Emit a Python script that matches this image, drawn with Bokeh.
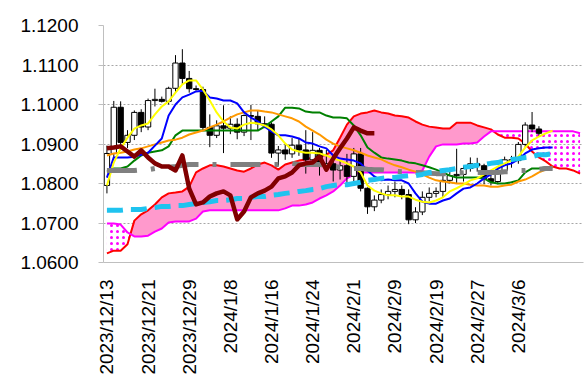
import numpy as np
from math import pi
from bokeh.plotting import figure
from bokeh.models import FixedTicker, NumeralTickFormatter, Range1d
from bokeh.embed import file_html
from bokeh.resources import INLINE

dates = ["2023/12/13", "2023/12/14", "2023/12/15", "2023/12/18", "2023/12/19", "2023/12/20",
         "2023/12/21", "2023/12/22", "2023/12/25", "2023/12/26", "2023/12/27", "2023/12/28",
         "2023/12/29", "2024/1/1", "2024/1/2", "2024/1/3", "2024/1/4", "2024/1/5",
         "2024/1/8", "2024/1/9", "2024/1/10", "2024/1/11", "2024/1/12", "2024/1/15",
         "2024/1/16", "2024/1/17", "2024/1/18", "2024/1/19", "2024/1/22", "2024/1/23",
         "2024/1/24", "2024/1/25", "2024/1/26", "2024/1/29", "2024/1/30", "2024/1/31",
         "2024/2/1", "2024/2/2", "2024/2/5", "2024/2/6", "2024/2/7", "2024/2/8",
         "2024/2/9", "2024/2/12", "2024/2/13", "2024/2/14", "2024/2/15", "2024/2/16",
         "2024/2/19", "2024/2/20", "2024/2/21", "2024/2/22", "2024/2/23", "2024/2/26",
         "2024/2/27", "2024/2/28", "2024/2/29", "2024/3/1", "2024/3/4", "2024/3/5",
         "2024/3/6", "2024/3/7", "2024/3/8", "2024/3/11"]

opens = [1.0795, 1.0876, 1.0993, 1.0904, 1.0922, 1.0980, 1.0943, 1.1010, 1.1013, 1.1008,
         1.1041, 1.1105, 1.1066, 1.1040, 1.1038, 1.0942, 1.0922, 1.0946, 1.0940, 1.0950,
         1.0930, 1.0972, 1.0970, 1.0951, 1.0950, 1.0877, 1.0885, 1.0875, 1.0897, 1.0885,
         1.0860, 1.0884, 1.0845, 1.0850, 1.0834, 1.0845, 1.0818, 1.0875, 1.0788, 1.0741,
         1.0758, 1.0772, 1.0780, 1.0785, 1.0772, 1.0708, 1.0728, 1.0765, 1.0775, 1.0780,
         1.0808, 1.0820, 1.0823, 1.0838, 1.0850, 1.0845, 1.0812, 1.0805, 1.0833, 1.0860,
         1.0858, 1.0899, 1.0948, 1.0938]
highs = [1.0896, 1.1009, 1.1008, 1.0935, 1.0985, 1.0988, 1.1015, 1.1040, 1.1020, 1.1045,
         1.1125, 1.1140, 1.1085, 1.1048, 1.1045, 1.0975, 1.0960, 1.0998, 1.0970, 1.0965,
         1.0975, 1.0999, 1.0985, 1.0970, 1.0955, 1.0895, 1.0900, 1.0915, 1.0915, 1.0935,
         1.0930, 1.0890, 1.0885, 1.0860, 1.0857, 1.0875, 1.0890, 1.0890, 1.0790, 1.0770,
         1.0785, 1.0795, 1.0805, 1.0795, 1.0785, 1.0740, 1.0780, 1.0790, 1.0790, 1.0825,
         1.0840, 1.0888, 1.0845, 1.0866, 1.0865, 1.0850, 1.0830, 1.0840, 1.0868, 1.0870,
         1.0905, 1.0955, 1.0981, 1.0945]
lows = [1.0775, 1.0866, 1.0888, 1.0890, 1.0910, 1.0930, 1.0935, 1.0995, 1.1005, 1.1000,
        1.1030, 1.1050, 1.1030, 1.1035, 1.0935, 1.0892, 1.0915, 1.0877, 1.0925, 1.0912,
        1.0920, 1.0910, 1.0935, 1.0940, 1.0865, 1.0845, 1.0860, 1.0865, 1.0870, 1.0825,
        1.0850, 1.0820, 1.0835, 1.0805, 1.0810, 1.0795, 1.0795, 1.0780, 1.0723, 1.0730,
        1.0750, 1.0760, 1.0765, 1.0760, 1.0697, 1.0700, 1.0720, 1.0755, 1.0765, 1.0765,
        1.0800, 1.0800, 1.0805, 1.0830, 1.0830, 1.0798, 1.0795, 1.0798, 1.0825, 1.0840,
        1.0850, 1.0890, 1.0930, 1.0918]
closes = [1.0876, 1.0993, 1.0904, 1.0922, 1.0980, 1.0943, 1.1010, 1.1013, 1.1008, 1.1041,
          1.1105, 1.1066, 1.1040, 1.1038, 1.0942, 1.0922, 1.0946, 1.0940, 1.0950, 1.0930,
          1.0972, 1.0970, 1.0951, 1.0950, 1.0877, 1.0885, 1.0875, 1.0897, 1.0885, 1.0860,
          1.0884, 1.0845, 1.0850, 1.0834, 1.0845, 1.0818, 1.0875, 1.0788, 1.0741, 1.0758,
          1.0772, 1.0780, 1.0785, 1.0772, 1.0708, 1.0728, 1.0765, 1.0775, 1.0780, 1.0808,
          1.0820, 1.0823, 1.0838, 1.0850, 1.0845, 1.0812, 1.0805, 1.0833, 1.0860, 1.0858,
          1.0899, 1.0948, 1.0938, 1.0927]

tenkan = [1.0795, 1.0853, 1.0889, 1.0916, 1.0939, 1.0947, 1.0952, 1.0975, 1.0995, 1.1008,
          1.1030, 1.1051, 1.1061, 1.1061, 1.1038, 1.1010, 1.0980, 1.0957, 1.0942, 1.0939,
          1.0949, 1.0954, 1.0952, 1.0947, 1.0937, 1.0922, 1.0901, 1.0886, 1.0881, 1.0878,
          1.0878, 1.0876, 1.0871, 1.0863, 1.0858, 1.0851, 1.0843, 1.0828, 1.0795, 1.0782,
          1.0775, 1.0770, 1.0770, 1.0767, 1.0767, 1.0759, 1.0754, 1.0752, 1.0757, 1.0765,
          1.0780, 1.0788, 1.0797, 1.0808, 1.0813, 1.0823, 1.0833, 1.0843, 1.0851, 1.0858,
          1.0868, 1.0891, 1.0909, 1.0919, 1.0927, 1.0934]
kijun = [1.0815, 1.0866, 1.0866, 1.0866, 1.0868, 1.0873, 1.0878, 1.0896, 1.0914, 1.0972,
         1.1000, 1.1018, 1.1025, 1.1033, 1.1035, 1.1018, 1.1015, 1.1010, 1.1010, 1.1003,
         1.0980, 1.0967, 1.0957, 1.0944, 1.0932, 1.0922, 1.0922, 1.0919, 1.0914, 1.0904,
         1.0901, 1.0894, 1.0889, 1.0871, 1.0863, 1.0861, 1.0858, 1.0851, 1.0833, 1.0818,
         1.0808, 1.0810, 1.0808, 1.0808, 1.0800, 1.0775, 1.0754, 1.0749, 1.0749, 1.0757,
         1.0762, 1.0775, 1.0787, 1.0790, 1.0800, 1.0813, 1.0823, 1.0838, 1.0846, 1.0851,
         1.0861, 1.0876, 1.0886, 1.0889, 1.0891, 1.0891]
green_line = [1.0830, 1.0838, 1.0838, 1.0843, 1.0858, 1.0871, 1.0878, 1.0881, 1.0884, 1.0894,
              1.0922, 1.0934, 1.0934, 1.0934, 1.0934, 1.0934, 1.0934, 1.0934, 1.0934, 1.0934,
              1.0934, 1.0934, 1.0934, 1.0944, 1.0957, 1.0970, 1.0992, 1.0992, 1.0990, 1.0982,
              1.0980, 1.0980, 1.0972, 1.0967, 1.0967, 1.0965, 1.0947, 1.0922, 1.0891, 1.0878,
              1.0866, 1.0863, 1.0861, 1.0858, 1.0853, 1.0851, 1.0846, 1.0841, 1.0835, 1.0828,
              1.0820, 1.0815, 1.0815, 1.0815, 1.0815, 1.0813, 1.0803, 1.0800, 1.0800, 1.0803,
              1.0808, 1.0828, 1.0838, 1.0838, 1.0841, 1.0841]
orange_line = [1.0871, 1.0876, 1.0878, 1.0881, 1.0886, 1.0889, 1.0894, 1.0899, 1.0904, 1.0909,
               1.0911, 1.0916, 1.0924, 1.0929, 1.0934, 1.0942, 1.0949, 1.0957, 1.0967, 1.0975,
               1.0980, 1.0985, 1.0985, 1.0982, 1.0980, 1.0975, 1.0970, 1.0965, 1.0957, 1.0944,
               1.0934, 1.0924, 1.0911, 1.0901, 1.0894, 1.0889, 1.0884, 1.0878, 1.0871, 1.0866,
               1.0861, 1.0853, 1.0846, 1.0841, 1.0835, 1.0830, 1.0823, 1.0815, 1.0808, 1.0805,
               1.0803, 1.0800, 1.0800, 1.0797, 1.0795, 1.0795, 1.0792, 1.0792, 1.0795, 1.0797,
               1.0805, 1.0810, 1.0818, 1.0828, 1.0835, 1.0843]
gray_line = [1.0833, 1.0833, 1.0833, 1.0833, 1.0833, 1.0835, 1.0835, 1.0838, 1.0841, 1.0841,
             1.0843, 1.0846, 1.0848, 1.0848, 1.0848, 1.0848, 1.0848, 1.0848, 1.0848, 1.0848,
             1.0848, 1.0848, 1.0848, 1.0848, 1.0848, 1.0848, 1.0851, 1.0851, 1.0848, 1.0848,
             1.0848, 1.0848, 1.0846, 1.0843, 1.0841, 1.0841, 1.0838, 1.0838, 1.0836, 1.0835,
             1.0835, 1.0833, 1.0831, 1.0830, 1.0830, 1.0828, 1.0827, 1.0826, 1.0825, 1.0825,
             1.0825, 1.0826, 1.0827, 1.0828, 1.0828, 1.0828, 1.0828, 1.0828, 1.0830, 1.0830,
             1.0833, 1.0833, 1.0835, 1.0836, 1.0838, 1.0838]
cyan_line = [1.0732, 1.0732, 1.0732, 1.0734, 1.0734, 1.0734, 1.0737, 1.0739, 1.0742, 1.0742,
             1.0744, 1.0744, 1.0747, 1.0749, 1.0752, 1.0754, 1.0757, 1.0757, 1.0759, 1.0762,
             1.0762, 1.0765, 1.0767, 1.0767, 1.0770, 1.0772, 1.0775, 1.0777, 1.0780, 1.0782,
             1.0785, 1.0787, 1.0792, 1.0795, 1.0797, 1.0797, 1.0800, 1.0803, 1.0808, 1.0810,
             1.0813, 1.0815, 1.0815, 1.0818, 1.0820, 1.0820, 1.0823, 1.0828, 1.0830, 1.0833,
             1.0835, 1.0838, 1.0841, 1.0843, 1.0846, 1.0848, 1.0851, 1.0853, 1.0858, 1.0861,
             1.0863, 1.0866, 1.0868, 1.0873, 1.0873, 1.0876]
chikou = [1.0889, 1.0891, 1.0894, 1.0881, 1.0868, 1.0884, 1.0866, 1.0851, 1.0843, 1.0843,
          1.0833, 1.0871, 1.0787, 1.0747, 1.0752, 1.0767, 1.0775, 1.0780, 1.0770, 1.0709,
          1.0729, 1.0765, 1.0775, 1.0782, 1.0792, 1.0813, 1.0818, 1.0828, 1.0846, 1.0851,
          1.0853, 1.0868, 1.0835, 1.0863, 1.0889, 1.0914, 1.0942, 1.0934, 1.0927, 1.0927]
span_a = [1.0623, 1.0630, 1.0630, 1.0646, 1.0706, 1.0722, 1.0732, 1.0747, 1.0765, 1.0775,
          1.0777, 1.0780, 1.0792, 1.0828, 1.0838, 1.0846, 1.0846, 1.0843, 1.0838, 1.0833,
          1.0830, 1.0838, 1.0848, 1.0853, 1.0846, 1.0835, 1.0848, 1.0853, 1.0858, 1.0861,
          1.0866, 1.0868, 1.0873, 1.0884, 1.0916, 1.0949, 1.0970, 1.0977, 1.0980, 1.0985,
          1.0980, 1.0977, 1.0972, 1.0970, 1.0967, 1.0957, 1.0949, 1.0944, 1.0942, 1.0939,
          1.0939, 1.0954, 1.0954, 1.0954, 1.0947, 1.0942, 1.0937, 1.0924, 1.0916, 1.0916,
          1.0914, 1.0901, 1.0881, 1.0866, 1.0856, 1.0843, 1.0838, 1.0838, 1.0833, 1.0825]
span_b = [1.0699, 1.0699, 1.0696, 1.0676, 1.0666, 1.0666, 1.0668, 1.0678, 1.0686, 1.0701,
          1.0704, 1.0704, 1.0704, 1.0711, 1.0729, 1.0732, 1.0732, 1.0732, 1.0732, 1.0732,
          1.0732, 1.0732, 1.0732, 1.0732, 1.0732, 1.0732, 1.0737, 1.0744, 1.0744, 1.0747,
          1.0752, 1.0762, 1.0770, 1.0780, 1.0795, 1.0813, 1.0823, 1.0828, 1.0828, 1.0828,
          1.0828, 1.0828, 1.0828, 1.0828, 1.0828, 1.0828, 1.0833, 1.0868, 1.0894, 1.0899,
          1.0899, 1.0899, 1.0901, 1.0901, 1.0904, 1.0919, 1.0932, 1.0932, 1.0932, 1.0932,
          1.0932, 1.0932, 1.0932, 1.0932, 1.0932, 1.0932, 1.0932, 1.0932, 1.0932, 1.0927]

y_ticks = [1.06, 1.07, 1.08, 1.09, 1.10, 1.11, 1.12]

FONT = "Liberation Sans"

p = figure(width=586, height=380, output_backend="svg", toolbar_location=None,
           x_range=Range1d(-0.5, 69.5), y_range=Range1d(1.06, 1.12),
           min_border_left=103, min_border_right=3, min_border_top=25, min_border_bottom=118)
p.outline_line_color = None
p.background_fill_color = "white"
p.border_fill_color = "white"

# cloud
xa = np.arange(len(span_a))
xf = np.linspace(0, len(span_a) - 1, (len(span_a) - 1) * 40 + 1)
af = np.interp(xf, xa, span_a)
bf = np.interp(xf, xa, span_b)
p.varea(x=xf, y1=bf, y2=np.maximum(af, bf), fill_color="#FF99CC", fill_alpha=1.0)
p.varea(x=xf, y1=af, y2=np.maximum(af, bf), fill_color="white", fill_alpha=0.0,
        hatch_pattern="dot", hatch_color="#FF00FF", hatch_scale=6, hatch_weight=2)
p.line(xa, span_a, line_color="#FF0000", line_width=2)
p.line(xa, span_b, line_color="#FF00FF", line_width=2)

# candles
xc = np.arange(len(closes))
o = np.array(opens); c = np.array(closes)
up = c >= o
p.segment(x0=xc, y0=lows, x1=xc, y1=highs, line_color="black", line_width=1)
p.vbar(x=xc[up], bottom=o[up], top=c[up], width=0.78, fill_color="white", line_color="black", line_width=1)
p.vbar(x=xc[~up], bottom=c[~up], top=o[~up], width=0.78, fill_color="black", line_color="black", line_width=1)

xl = np.arange(len(tenkan))
p.line(xl, green_line, line_color="#008000", line_width=2)
p.line(xl, orange_line, line_color="#FF9900", line_width=2)
p.line(xl, kijun, line_color="#0000FF", line_width=2)
p.line(xl, tenkan, line_color="#FFFF00", line_width=2)
p.line(xl, gray_line, line_color="#808080", line_width=5, line_dash="30 14 4 14")
p.line(xl, cyan_line, line_color="#1FC3EF", line_width=5, line_dash="16 8")
p.line(np.arange(len(chikou)), chikou, line_color="#800000", line_width=4.5, line_join="round")

# axes
p.yaxis.ticker = FixedTicker(ticks=y_ticks)
p.yaxis.formatter = NumeralTickFormatter(format="0.0000")
p.yaxis.major_label_text_font = FONT
p.yaxis.major_label_text_font_size = "19px"
p.yaxis.major_label_text_color = "black"
p.yaxis.major_label_standoff = 20
p.yaxis.major_tick_out = 5
p.yaxis.major_tick_in = 0
p.yaxis.minor_tick_line_color = None
p.yaxis.major_tick_line_color = "#BFBFBF"
p.yaxis.axis_line_color = "#BFBFBF"

tick_idx = list(range(0, len(dates) - 3, 6))
p.xaxis.ticker = FixedTicker(ticks=tick_idx)
p.xaxis.major_label_overrides = {i: dates[i] for i in tick_idx}
p.xaxis.major_label_orientation = pi / 2
p.xaxis.major_label_text_font = FONT
p.xaxis.major_label_text_font_size = "19px"
p.xaxis.major_label_text_color = "black"
p.xaxis.major_label_standoff = 17
p.xaxis.major_tick_out = 0
p.xaxis.major_tick_in = 0
p.xaxis.minor_tick_line_color = None
p.xaxis.axis_line_color = "#BFBFBF"

p.xgrid.grid_line_color = None
p.ygrid.grid_line_color = "#A6A6A6"
p.ygrid.grid_line_dash = "2 2"
p.ygrid.grid_line_width = 1

open("out.html", "w").write(file_html(p, INLINE))
